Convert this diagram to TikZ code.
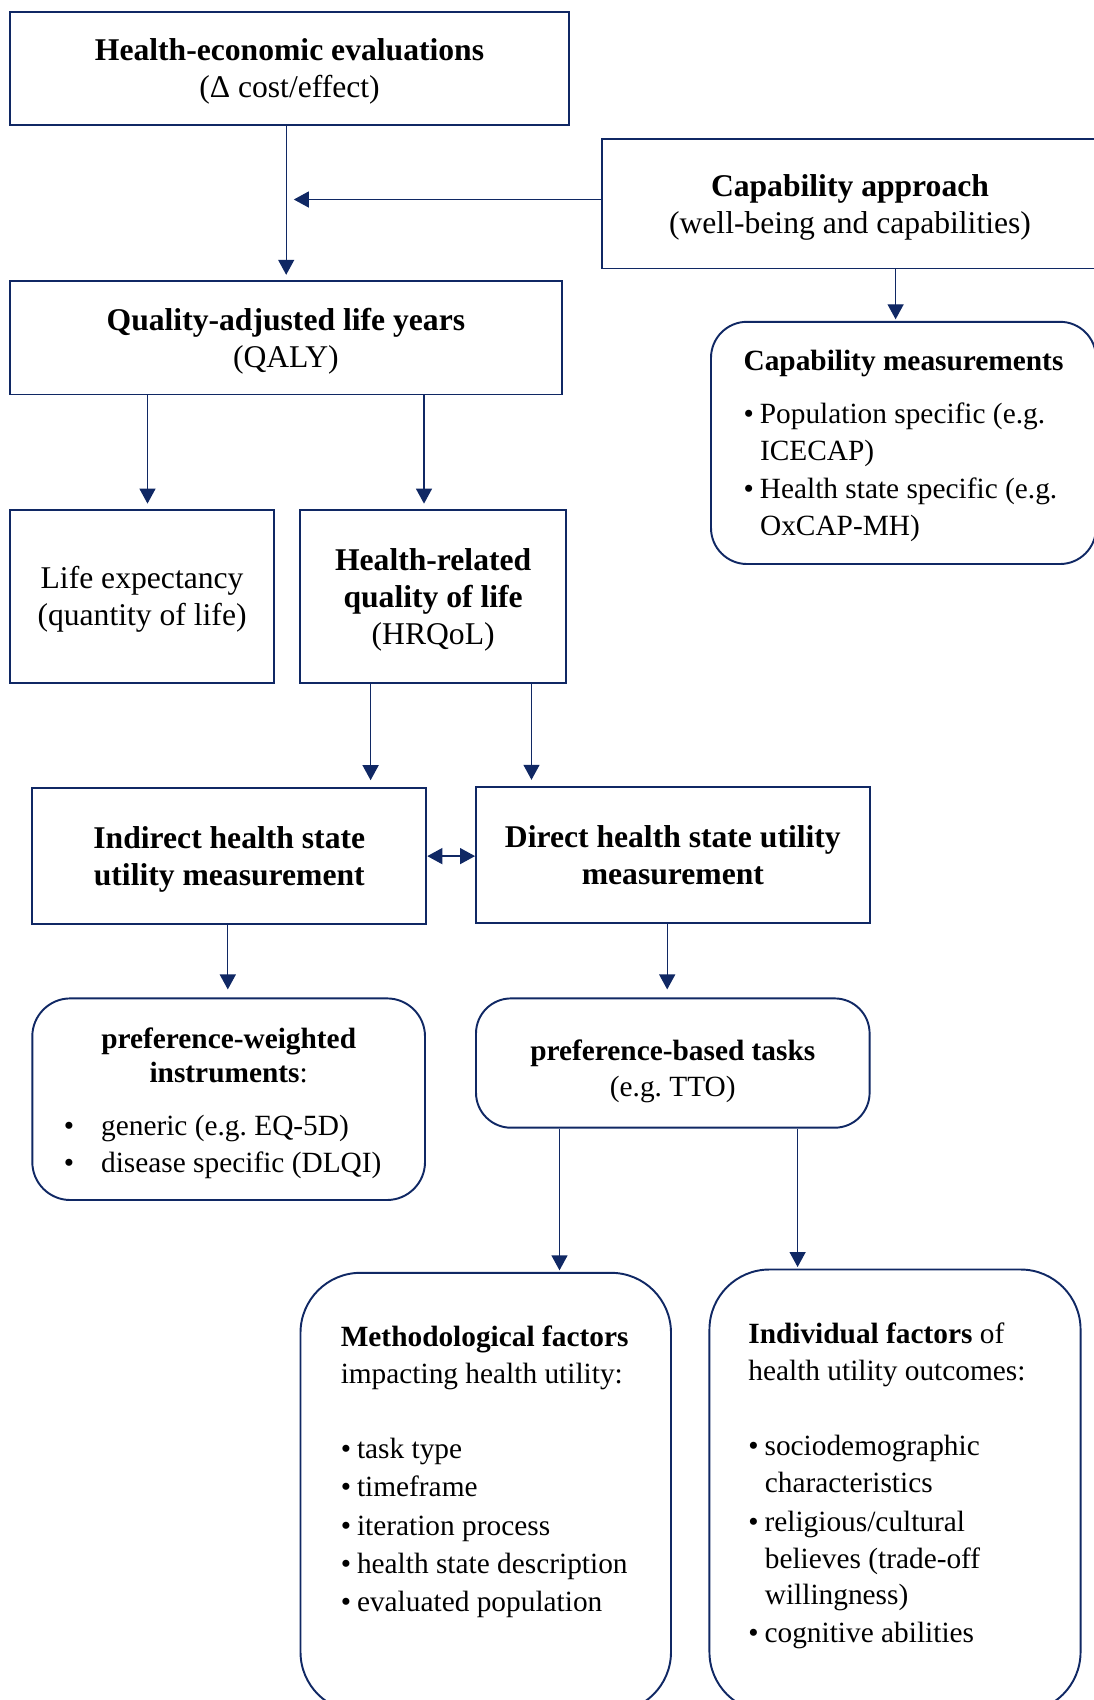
\documentclass[tikz,border=0pt]{standalone}
\usepackage{fontspec}
\setmainfont{Liberation Serif}
\frenchspacing
\usetikzlibrary{arrows.meta}
\definecolor{navy}{RGB}{16,40,100}
\newcommand{\bul}{\textbullet\hspace{0.12cm}}
\newcommand{\hang}{\hspace*{0.33cm}}
\tikzset{
  navytip/.tip={Triangle[length=0.3cm,width=0.32cm]},
  box/.style={draw=navy, line width=1.1pt, align=center, inner sep=0pt, text depth=0pt},
  roundbox/.style={box, rounded corners=#1},
  small/.style={font=\fontsize{16.7}{21}\selectfont},
  arr/.style={draw=navy, line width=0.75pt, -navytip},
}

\begin{document}
\begin{tikzpicture}[font=\fontsize{18}{21}\selectfont]
  \useasboundingbox (0,0) rectangle (21.88,-34);

  \node[box, minimum width=11.19cm, minimum height=2.256cm] (hee) at (5.79,-1.366)
    {\textbf{Health-economic evaluations}\\(Δ cost/effect)};
  \node[box, minimum width=9.93cm, minimum height=2.594cm] (cap) at (17.0,-4.073)
    {\textbf{Capability approach}\\(well-being and capabilities)};
  \node[box, minimum width=11.044cm, minimum height=2.274cm] (qaly) at (5.718,-6.753)
    {\textbf{Quality-adjusted life years}\\(QALY)};
  \node[roundbox=0.72cm, small, align=left, minimum width=7.7cm, minimum height=4.844cm] (capm) at (18.07,-8.858)
    {\textbf{Capability measurements}\\[0.32cm]
     \bul Population specific (e.g.\\\hang ICECAP)\\[0.04cm]
     \bul Health state specific (e.g.\\\hang OxCAP-MH)};

  \node[box, minimum width=5.29cm, minimum height=3.468cm] (life) at (2.841,-11.926)
    {Life expectancy\\(quantity of life)};
  \node[box, minimum width=5.314cm, minimum height=3.468cm] (hrqol) at (8.663,-11.926)
    {\textbf{Health-related}\\\textbf{quality of life}\\(HRQoL)};

  \node[box, minimum width=7.88cm, minimum height=2.716cm] (indirect) at (4.586,-17.122)
    {\textbf{Indirect health state}\\\textbf{utility measurement}};
  \node[box, minimum width=7.874cm, minimum height=2.724cm] (direct) at (13.457,-17.098)
    {\textbf{Direct health state utility}\\\textbf{measurement}};

  \node[roundbox=0.76cm, font=\fontsize{16.7}{19.2}\selectfont, text depth=19.9pt, minimum width=7.854cm, minimum height=4.032cm] (instr) at (4.573,-21.984)
    {\textbf{preference-weighted}\\\textbf{instruments}:\\[0.4cm]
     \begin{tabular}[t]{@{}l@{\hspace{0.54cm}}l@{}}
       \textbullet & generic (e.g. EQ-5D)\\[1.8pt]
       \textbullet & disease specific (DLQI)
     \end{tabular}\makebox[0.24cm]{}};
  \node[roundbox=0.7cm, font=\fontsize{16.7}{20.4}\selectfont, text height=38pt, minimum width=7.872cm, minimum height=2.586cm] (tasks) at (13.456,-21.261)
    {\textbf{preference-based tasks}\\(e.g. TTO)};

  \node[roundbox=1.2cm, minimum width=7.41cm, minimum height=8.784cm] (methbox) at (9.715,-29.848) {};
  \node[small, anchor=north west, align=left, inner sep=0pt] (methtext) at (6.808,-26.51)
    {\textbf{Methodological factors}\\impacting health utility:\\[0.76cm]
     \bul task type\\[0.03cm]
     \bul timeframe\\[0.03cm]
     \bul iteration process\\[0.03cm]
     \bul health state description\\[0.03cm]
     \bul evaluated population};
  \node[roundbox=1.2cm, minimum width=7.422cm, minimum height=8.85cm] (indbox) at (17.9,-29.815) {};
  \node[small, anchor=north west, align=left, inner sep=0pt] (indtext) at (14.96,-26.45)
    {\textbf{Individual factors} of\\health utility outcomes:\\[0.76cm]
     \bul sociodemographic\\\hang characteristics\\[0.04cm]
     \bul religious/cultural\\\hang believes (trade-off\\\hang willingness)\\[0.02cm]
     \bul cognitive abilities};

  \coordinate (captip) at (5.876,-3.99);
  \draw[arr, shorten >=0pt] (cap.west |- captip) -- (captip);
  \foreach \x/\a/\b/\g in {5.724/hee/qaly/0.1cm, 17.912/cap/capm/0.03cm,
      2.95/qaly/life/0.1cm, 8.48/qaly/hrqol/0.1cm,
      7.412/hrqol/indirect/0.14cm, 10.63/hrqol/direct/0.12cm,
      4.556/indirect/instr/0.16cm, 13.344/direct/tasks/0.16cm,
      11.19/tasks/methbox/0.03cm, 15.952/tasks/indbox/0.03cm} {
    \draw[arr, shorten >=\g] (\a.south -| \x,0) -- (\b.north -| \x,0);
  }
  \draw[arr, navytip-navytip] (indirect.east) -- (indirect.east -| direct.west);
\end{tikzpicture}
\end{document}
